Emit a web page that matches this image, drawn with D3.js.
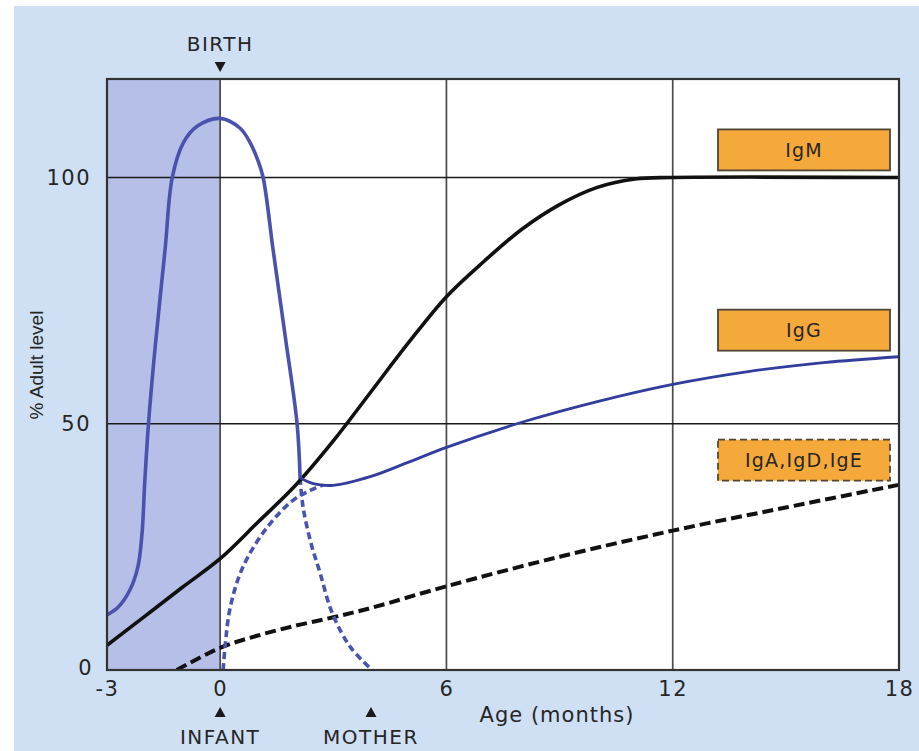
<!DOCTYPE html>
<html>
<head>
<meta charset="utf-8">
<script src="https://cdn.jsdelivr.net/npm/d3@7"></script>
<style>
  html, body { margin: 0; padding: 0; background: #ffffff; }
  svg { display: block; }
  text { font-family: "DejaVu Sans", sans-serif; fill: #262626; }
</style>
</head>
<body>
<svg id="chart" width="919" height="751"></svg>
<script>
// ---------- DATA ----------
const xTicks = [-3, 0, 6, 12, 18];
const xTickLabels = ["-3", "0", "6", "12", "18"];
const yTicks = [0, 50, 100];
const yTickLabels = ["0", "50", "100"];

// IgM (black solid)
const igmMonths = [-3, -2, -1, 0, 1, 2, 3, 4, 5, 6, 7, 8, 9, 10, 11, 12, 18];
const igmValues = [5, 10.9, 16.8, 22.6, 30, 37.5, 46.5, 56.5, 66.5, 75.8, 83, 89.5, 94.5, 98, 99.7, 100, 100];

// Maternal IgG (blue solid, before and around birth)
const maternalMonths = [-3, -2.7, -2.39, -2.18, -2.07, -2.0, -1.9, -1.73, -1.46, -1.27, -0.98, -0.61, 0, 0.53, 0.8, 1.0, 1.14, 1.41, 1.73, 2.04, 2.12];
const maternalValues = [11.2, 12.8, 16.3, 21, 27.8, 38, 50, 65, 85.4, 100, 107, 110.4, 112, 110, 107, 103.5, 100, 85, 67.5, 50, 39];

// Maternal IgG decay (blue dashed)
const maternalDecayMonths = [2.12, 2.2, 2.4, 2.65, 2.97, 3.45, 4.03];
const maternalDecayValues = [39, 33, 26, 19.7, 11.6, 4.7, 0];

// Infant's own IgG (blue dashed)
const infantIgGMonths = [0.08, 0.13, 0.27, 0.61, 1.25, 1.94, 2.4, 2.73];
const infantIgGValues = [0, 4.7, 12.8, 21, 29, 34.5, 36.5, 37.6];

// Total IgG (blue solid, after birth)
const igGMonths = [2.12, 2.5, 3, 4, 5, 6, 8, 10, 12, 14, 16, 18];
const igGValues = [39, 37.8, 37.5, 39.3, 42.2, 45.2, 50.3, 54.5, 58, 60.6, 62.4, 63.6];

// IgA, IgD, IgE (black dashed)
const igaMonths = [-1.15, 0, 1, 2, 3, 4, 6, 9, 12, 15, 18];
const igaValues = [0, 4.5, 7, 9, 10.7, 12.6, 17, 23, 28.3, 33, 37.6];

const legendLabels = ["IgM", "IgG", "IgA,IgD,IgE"];
const legendLevels = [105.6, 69, 42.6];

// ---------- LAYOUT ----------
const svg = d3.select("#chart");
const W = 919, H = 751;
const plot = { left: 107, right: 899, top: 79, bottom: 670 };

const x = d3.scaleLinear().domain([-3, 18]).range([plot.left, plot.right]);
const y = d3.scaleLinear().domain([0, 120]).range([plot.bottom, plot.top]);

// page background
svg.append("rect").attr("x", 0).attr("y", 0).attr("width", W).attr("height", H).attr("fill", "#ffffff");
svg.append("rect").attr("x", 14).attr("y", 6).attr("width", W - 14).attr("height", H - 6).attr("fill", "#cfe0f5");

// plot area
svg.append("rect")
  .attr("x", x(-3)).attr("y", y(120))
  .attr("width", x(18) - x(-3)).attr("height", y(0) - y(120))
  .attr("fill", "#ffffff");

// prenatal shaded band
svg.append("rect")
  .attr("x", x(-3)).attr("y", y(120))
  .attr("width", x(0) - x(-3)).attr("height", y(0) - y(120))
  .attr("fill", "#b5bfe7");

// grid lines
const grid = svg.append("g");
[0, 6, 12].forEach(v => {
  grid.append("line")
    .attr("x1", x(v)).attr("x2", x(v)).attr("y1", y(120)).attr("y2", y(0))
    .attr("stroke", "#4a4a4a").attr("stroke-width", 1.7);
});
[50, 100].forEach(v => {
  grid.append("line")
    .attr("x1", x(-3)).attr("x2", x(18)).attr("y1", y(v)).attr("y2", y(v))
    .attr("stroke", "#1a1a1a").attr("stroke-width", 1.7);
});

// clip
svg.append("clipPath").attr("id", "clip")
  .append("rect").attr("x", x(-3)).attr("y", y(120))
  .attr("width", x(18) - x(-3)).attr("height", y(0) - y(120));

const curves = svg.append("g").attr("clip-path", "url(#clip)");
const line = d3.line().x(d => x(d[0])).y(d => y(d[1])).curve(d3.curveCatmullRom.alpha(0.5));
const zip = (a, b) => a.map((v, i) => [v, b[i]]);

function drawSeries(months, values, color, width, dash) {
  curves.append("path")
    .datum(zip(months, values))
    .attr("d", line)
    .attr("fill", "none")
    .attr("stroke", color)
    .attr("stroke-width", width)
    .attr("stroke-linecap", "butt")
    .attr("stroke-linejoin", "round")
    .attr("stroke-dasharray", dash || null);
}

drawSeries(igaMonths, igaValues, "#111111", 4, "11,5");
drawSeries(infantIgGMonths, infantIgGValues, "#4b54ad", 3.6, "7,4");
drawSeries(maternalDecayMonths, maternalDecayValues, "#4b54ad", 3.6, "7,4");
drawSeries(igmMonths, igmValues, "#111111", 3.6);
drawSeries(maternalMonths, maternalValues, "#4a52ad", 3.6);
drawSeries(igGMonths, igGValues, "#333d9e", 2.8);

// frame
svg.append("rect")
  .attr("x", x(-3)).attr("y", y(120))
  .attr("width", x(18) - x(-3)).attr("height", y(0) - y(120))
  .attr("fill", "none").attr("stroke", "#333333").attr("stroke-width", 2.2);

// axes
const xAxis = svg.append("g")
  .attr("transform", `translate(0,${plot.bottom})`)
  .call(d3.axisBottom(x).tickValues(xTicks).tickSize(0).tickPadding(11)
    .tickFormat((d, i) => xTickLabels[i]));
xAxis.select(".domain").remove();
xAxis.selectAll("text").style("font-size", "21px").style("letter-spacing", "1.5px")
  .attr("fill", "#262626").style("font-family", "'DejaVu Sans', sans-serif");

const yAxis = svg.append("g")
  .attr("transform", `translate(${plot.left},0)`)
  .call(d3.axisLeft(y).tickValues(yTicks).tickSize(0).tickPadding(16)
    .tickFormat((d, i) => yTickLabels[i]));
yAxis.select(".domain").remove();
yAxis.selectAll("text").style("font-size", "21px").style("letter-spacing", "1.5px")
  .attr("fill", "#262626").style("font-family", "'DejaVu Sans', sans-serif");
// nudge the "0" label left so it doesn't collide with "-3"
yAxis.selectAll(".tick").filter(d => d === 0).select("text").attr("x", -14).attr("dy", "0.2em");

// axis titles
svg.append("text")
  .attr("transform", `translate(43,${365}) rotate(-90)`)
  .attr("text-anchor", "middle")
  .style("font-family", "'Liberation Sans', Arial, sans-serif")
  .style("font-size", "19px")
  .text("% Adult level");

svg.append("text")
  .attr("x", 557).attr("y", 722)
  .attr("text-anchor", "middle")
  .style("font-size", "21px")
  .style("letter-spacing", "1px")
  .text("Age (months)");

// markers
function triangle(cx, tipY, dir) {
  const h = 10, w = 11;
  const baseY = tipY - dir * h;
  return `M${cx - w / 2},${baseY} L${cx + w / 2},${baseY} L${cx},${tipY} Z`;
}
svg.append("path").attr("d", triangle(x(0), 72, 1)).attr("fill", "#1a1a1a");
svg.append("text").attr("x", x(0)).attr("y", 51).attr("text-anchor", "middle")
  .style("font-size", "20px").style("letter-spacing", "1.5px").text("BIRTH");

svg.append("path").attr("d", triangle(x(0), 707, -1)).attr("fill", "#1a1a1a");
svg.append("text").attr("x", x(0)).attr("y", 744).attr("text-anchor", "middle")
  .style("font-size", "20px").style("letter-spacing", "1.5px").text("INFANT");

svg.append("path").attr("d", triangle(x(4), 707, -1)).attr("fill", "#1a1a1a");
svg.append("text").attr("x", x(4)).attr("y", 744).attr("text-anchor", "middle")
  .style("font-size", "20px").style("letter-spacing", "1.5px").text("MOTHER");

// label boxes
const boxW = 172, boxH = 41, boxX = 718;
legendLabels.forEach((lab, i) => {
  const cy = y(legendLevels[i]);
  svg.append("rect")
    .attr("x", boxX).attr("y", cy - boxH / 2)
    .attr("width", boxW).attr("height", boxH)
    .attr("fill", "#f6a93b")
    .attr("stroke", "#4f4535").attr("stroke-width", 1.8)
    .attr("stroke-dasharray", i === 2 ? "7,4" : null);
  svg.append("text")
    .attr("x", boxX + boxW / 2).attr("y", cy + 7)
    .attr("text-anchor", "middle")
    .style("font-size", "19px").style("letter-spacing", "1.2px")
    .attr("fill", "#3a2f22")
    .text(lab);
});
</script>
</body>
</html>
